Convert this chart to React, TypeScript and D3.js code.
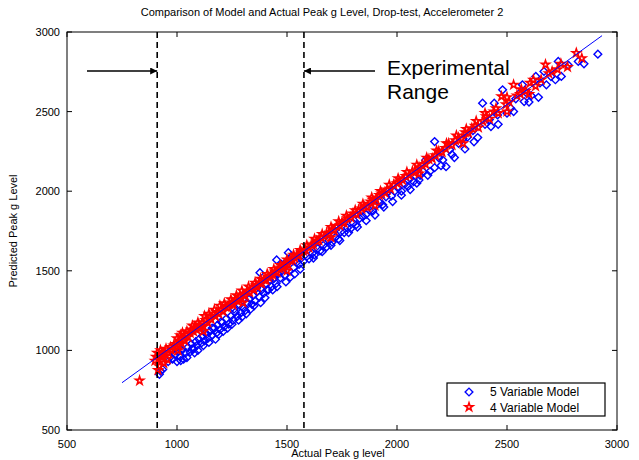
import * as d3 from "d3";

// chart text
const title = "Comparison of Model and Actual Peak g Level, Drop-test, Accelerometer 2";
const xLabel = "Actual Peak g level";
const yLabel = "Predicted Peak g Level";
const legendLabels = ["5 Variable Model", "4 Variable Model"];
const xTicks = [500, 1000, 1500, 2000, 2500, 3000];
const yTicks = [500, 1000, 1500, 2000, 2500, 3000];

// experimental range (actual g) and fitted line end points
const rangeBounds = [910, 1577];
const fitLine: [number, number][] = [[750, 797], [2932, 2977]];

// [actual, predicted] pairs
const fiveVarModel: [number, number][] = [
  [920, 850], [925, 870], [935, 880], [960, 930], [970, 960], [980, 945], [990, 975], [1000, 930],
  [1005, 990], [1015, 960], [1017, 936], [1025, 1005], [1030, 945], [1040, 985], [1050, 1020],
  [1060, 990], [1065, 1040], [1069, 1010], [1075, 1010], [1085, 1055], [1090, 1030], [1100, 1070],
  [1107, 1150], [1110, 1045], [1115, 1090], [1125, 1060], [1135, 1100], [1140, 1075], [1150, 1120],
  [1160, 1095], [1170, 1140], [1180, 1110], [1185, 1160], [1195, 1130], [1205, 1175], [1215, 1150],
  [1225, 1200], [1235, 1165], [1245, 1215], [1255, 1190], [1265, 1240], [1275, 1215], [1285, 1285],
  [1290, 1235], [1300, 1270], [1310, 1250], [1320, 1300], [1330, 1325], [1340, 1290], [1345, 1345],
  [1355, 1310], [1365, 1370], [1375, 1335], [1385, 1380], [1395, 1360], [1405, 1420], [1410, 1380],
  [1420, 1440], [1430, 1400], [1440, 1450], [1450, 1420], [1460, 1480], [1470, 1455], [1480, 1520],
  [1490, 1470], [1500, 1560], [1510, 1500], [1520, 1590], [1530, 1520], [1545, 1555], [1555, 1540],
  [1565, 1580], [1575, 1560], [1590, 1590], [1600, 1575], [1615, 1610], [1625, 1600], [1640, 1640],
  [1650, 1625], [1665, 1660], [1680, 1650], [1690, 1690], [1705, 1680], [1720, 1710], [1735, 1700],
  [1745, 1745], [1760, 1740], [1775, 1770], [1790, 1765], [1800, 1800], [1815, 1790], [1830, 1830],
  [1845, 1840], [1860, 1855], [1875, 1880], [1890, 1875], [1905, 1910], [1920, 1930], [1935, 1915],
  [1950, 1965], [1960, 2000], [1975, 1970], [1990, 2000], [2005, 2020], [2020, 2000], [2035, 2045],
  [2050, 2030], [2060, 2080], [2075, 2060], [2090, 2050], [2105, 2100], [2118, 2123], [2130, 2195],
  [2150, 2125], [2171, 2148], [2171, 2312], [2190, 2210], [2208, 2196], [2223, 2154], [2240, 2260],
  [2261, 2211], [2280, 2300], [2309, 2265], [2320, 2340], [2345, 2380], [2367, 2337], [2389, 2553],
  [2400, 2420], [2427, 2406], [2442, 2553], [2457, 2479], [2480, 2637], [2500, 2490], [2517, 2521],
  [2540, 2580], [2570, 2668], [2578, 2563], [2590, 2616], [2610, 2600], [2631, 2721], [2643, 2590],
  [2668, 2752], [2679, 2668], [2700, 2720], [2733, 2815], [2747, 2721], [2824, 2815], [2913, 2861],
  [1020, 1000], [1045, 955], [1080, 985], [1095, 1000], [1120, 1030], [1130, 1110], [1145, 1050],
  [1160, 1140], [1175, 1070], [1190, 1100], [1200, 1180], [1210, 1120], [1230, 1140], [1250, 1165],
  [1260, 1260], [1280, 1190], [1295, 1210], [1315, 1230], [1335, 1260], [1350, 1280], [1360, 1390],
  [1377, 1488], [1380, 1300], [1400, 1330], [1415, 1379], [1435, 1380], [1453, 1568], [1455, 1400],
  [1475, 1540], [1495, 1430], [1506, 1614], [1515, 1460], [1535, 1480], [1560, 1510], [1620, 1580],
  [1660, 1620], [1700, 1660], [1740, 1690], [1780, 1740], [1820, 1775], [1860, 1815], [1900, 1850],
  [1940, 1900], [1980, 1935], [2020, 1975], [2060, 2010], [2100, 2070], [2140, 2100], [2200, 2160],
  [2250, 2230], [2300, 2330], [2350, 2310], [2420, 2450], [2460, 2420], [2530, 2500], [2560, 2620],
  [2600, 2560], [2650, 2680], [2720, 2700], [2780, 2790], [2850, 2800],
];

const fourVarModel: [number, number][] = [
  [830, 810], [900, 935], [905, 960], [910, 985], [915, 940], [920, 900], [925, 1000], [930, 955],
  [935, 975], [940, 920], [945, 990], [950, 1010], [960, 985], [970, 1020], [975, 1000], [985, 1030],
  [995, 1040], [1000, 1075], [1005, 1000], [1009, 1031], [1010, 1060], [1015, 1095], [1020, 1045],
  [1030, 1080], [1035, 1060], [1040, 1100], [1050, 1085], [1060, 1110], [1065, 1130], [1075, 1120],
  [1080, 1145], [1090, 1130], [1100, 1160], [1105, 1140], [1115, 1175], [1120, 1150], [1130, 1190],
  [1140, 1175], [1150, 1210], [1155, 1195], [1165, 1225], [1175, 1215], [1180, 1240], [1190, 1230],
  [1200, 1255], [1210, 1245], [1220, 1275], [1230, 1270], [1240, 1290], [1250, 1300], [1255, 1285],
  [1265, 1320], [1275, 1310], [1285, 1340], [1290, 1325], [1300, 1350], [1310, 1345], [1320, 1370],
  [1330, 1365], [1340, 1390], [1350, 1380], [1360, 1410], [1365, 1400], [1375, 1425], [1385, 1420],
  [1395, 1445], [1405, 1440], [1415, 1460], [1425, 1470], [1435, 1475], [1445, 1495], [1455, 1490],
  [1465, 1515], [1475, 1520], [1485, 1530], [1495, 1545], [1505, 1540], [1515, 1565], [1525, 1570],
  [1535, 1580], [1545, 1600], [1555, 1595], [1565, 1615], [1575, 1625], [1585, 1630], [1600, 1645],
  [1610, 1660], [1620, 1665], [1635, 1685], [1645, 1690], [1655, 1710], [1670, 1715], [1680, 1735],
  [1690, 1730], [1705, 1760], [1715, 1755], [1725, 1780], [1740, 1785], [1750, 1805], [1760, 1800],
  [1775, 1830], [1790, 1835], [1800, 1860], [1815, 1855], [1825, 1880], [1840, 1890], [1850, 1905],
  [1865, 1900], [1880, 1935], [1890, 1945], [1905, 1950], [1920, 1975], [1930, 1985], [1945, 1990],
  [1955, 2010], [1970, 2015], [1985, 2040], [2000, 2050], [2010, 2060], [2025, 2070], [2040, 2095],
  [2055, 2100], [2070, 2125], [2085, 2120], [2100, 2150], [2115, 2165], [2130, 2170], [2145, 2200],
  [2160, 2205], [2175, 2225], [2190, 2250], [2205, 2245], [2220, 2270], [2235, 2300], [2250, 2290],
  [2265, 2320], [2280, 2335], [2295, 2330], [2310, 2370], [2325, 2365], [2340, 2395], [2355, 2410],
  [2370, 2400], [2390, 2440], [2405, 2470], [2420, 2455], [2440, 2500], [2460, 2490], [2475, 2595],
  [2495, 2545], [2510, 2560], [2530, 2668], [2545, 2600], [2565, 2640], [2585, 2630], [2605, 2680],
  [2630, 2660], [2655, 2700], [2675, 2795], [2705, 2752], [2730, 2765], [2775, 2780], [2815, 2868],
  [2840, 2835],
  [914, 877], [938, 960], [955, 945], [1025, 1110], [1045, 1120], [1070, 1155], [1095, 1175],
  [1120, 1120], [1125, 1215], [1145, 1230], [1170, 1255], [1195, 1280], [1215, 1295], [1245, 1320],
  [1270, 1345], [1295, 1375], [1300, 1300], [1325, 1400], [1355, 1425], [1380, 1450], [1410, 1480],
  [1440, 1510], [1470, 1535], [1500, 1500], [1500, 1570], [1530, 1600], [1560, 1630], [1590, 1660],
  [1625, 1700], [1660, 1730], [1700, 1710], [1700, 1775], [1735, 1810], [1770, 1845], [1810, 1880],
  [1845, 1920], [1885, 1960], [1900, 1910], [1925, 2000], [1965, 2040], [2005, 2080], [2045, 2120],
  [2090, 2165], [2100, 2110], [2135, 2210], [2180, 2255], [2225, 2300], [2270, 2350], [2300, 2300],
  [2315, 2390], [2360, 2440], [2400, 2490], [2450, 2520], [2500, 2500], [2500, 2590], [2560, 2610],
  [2600, 2610], [2620, 2700], [2690, 2740], [2745, 2800],
];

const font = "'Liberation Sans', Arial, sans-serif";

export default function App() {
  const width = 639;
  const height = 460;
  const margin = { top: 32, right: 22, bottom: 30, left: 67 };

  const x = d3.scaleLinear().domain([500, 3000]).range([margin.left, width - margin.right]);
  const y = d3.scaleLinear().domain([500, 3000]).range([height - margin.bottom, margin.top]);

  const diamond = d3.symbol(d3.symbolSquare, 30)()!;
  const star = d3.symbol(d3.symbolStar, 20)()!;
  const line = d3.line<[number, number]>().x((d) => x(d[0])).y((d) => y(d[1]));

  const x0 = x.range()[0];
  const x1 = x.range()[1];
  const y0 = y.range()[0];
  const y1 = y.range()[1];
  const arrowY = 71;

  return (
    <svg width={width} height={height} style={{ position: "absolute", left: 0, top: 0 }}>
      <defs>
        <marker id="arrowHead" viewBox="0 0 10 10" refX="10" refY="5" markerWidth="10" markerHeight="7"
          markerUnits="userSpaceOnUse" orient="auto">
          <path d="M0,0L10,5L0,10Z" fill="#000" />
        </marker>
      </defs>
      <rect width={width} height={height} fill="#fff" />
      <text x={322} y={16} textAnchor="middle" fontFamily={font} fontSize={11}>{title}</text>

      {/* data */}
      <g>
        {fiveVarModel.map((d, i) => (
          <path key={"b" + i} d={diamond} transform={`translate(${x(d[0])},${y(d[1])}) rotate(45)`}
            fill="none" stroke="#0000ff" strokeWidth={1.4} />
        ))}
        {fourVarModel.map((d, i) => (
          <path key={"r" + i} d={star} transform={`translate(${x(d[0])},${y(d[1])})`}
            fill="none" stroke="#ff0000" strokeWidth={1.6} />
        ))}
        <path d={line(fitLine)!} fill="none" stroke="#0000ff" strokeWidth={1} />
      </g>

      {/* experimental range */}
      {rangeBounds.map((v) => (
        <line key={v} x1={x(v)} x2={x(v)} y1={y1} y2={y0} stroke="#000" strokeWidth={1.6} strokeDasharray="6,4" />
      ))}
      <line x1={87} x2={x(rangeBounds[0])} y1={arrowY} y2={arrowY} stroke="#000" strokeWidth={1.5} markerEnd="url(#arrowHead)" />
      <line x1={375} x2={x(rangeBounds[1])} y1={arrowY} y2={arrowY} stroke="#000" strokeWidth={1.5} markerEnd="url(#arrowHead)" />
      <text x={387} y={75} fontFamily={font} fontSize={21}>Experimental</text>
      <text x={387} y={99} fontFamily={font} fontSize={21}>Range</text>

      {/* axes box */}
      <rect x={x0} y={y1} width={x1 - x0} height={y0 - y1} fill="none" stroke="#000" strokeWidth={1} />
      {xTicks.map((t) => (
        <g key={"x" + t}>
          <line x1={x(t)} x2={x(t)} y1={y0} y2={y0 - 5} stroke="#000" />
          <line x1={x(t)} x2={x(t)} y1={y1} y2={y1 + 5} stroke="#000" />
          <text x={x(t)} y={448} textAnchor="middle" fontFamily={font} fontSize={11}>{t}</text>
        </g>
      ))}
      {yTicks.map((t) => (
        <g key={"y" + t}>
          <line x1={x0} x2={x0 + 5} y1={y(t)} y2={y(t)} stroke="#000" />
          <line x1={x1} x2={x1 - 5} y1={y(t)} y2={y(t)} stroke="#000" />
          <text x={60} y={y(t) + 4} textAnchor="end" fontFamily={font} fontSize={11}>{t}</text>
        </g>
      ))}
      <text x={338} y={457} textAnchor="middle" fontFamily={font} fontSize={11}>{xLabel}</text>
      <text transform={`translate(17,${(y0 + y1) / 2}) rotate(-90)`} textAnchor="middle" fontFamily={font} fontSize={11}>{yLabel}</text>

      {/* legend */}
      <rect x={447} y={383} width={158} height={33} fill="#fff" stroke="#000" strokeWidth={1.2} />
      <path d={diamond} transform="translate(469,392) rotate(45)" fill="none" stroke="#0000ff" strokeWidth={1.4} />
      <path d={star} transform="translate(469,407)" fill="none" stroke="#ff0000" strokeWidth={1.6} />
      <text x={490} y={396} fontFamily={font} fontSize={12}>{legendLabels[0]}</text>
      <text x={490} y={411.5} fontFamily={font} fontSize={12}>{legendLabels[1]}</text>
    </svg>
  );
}
